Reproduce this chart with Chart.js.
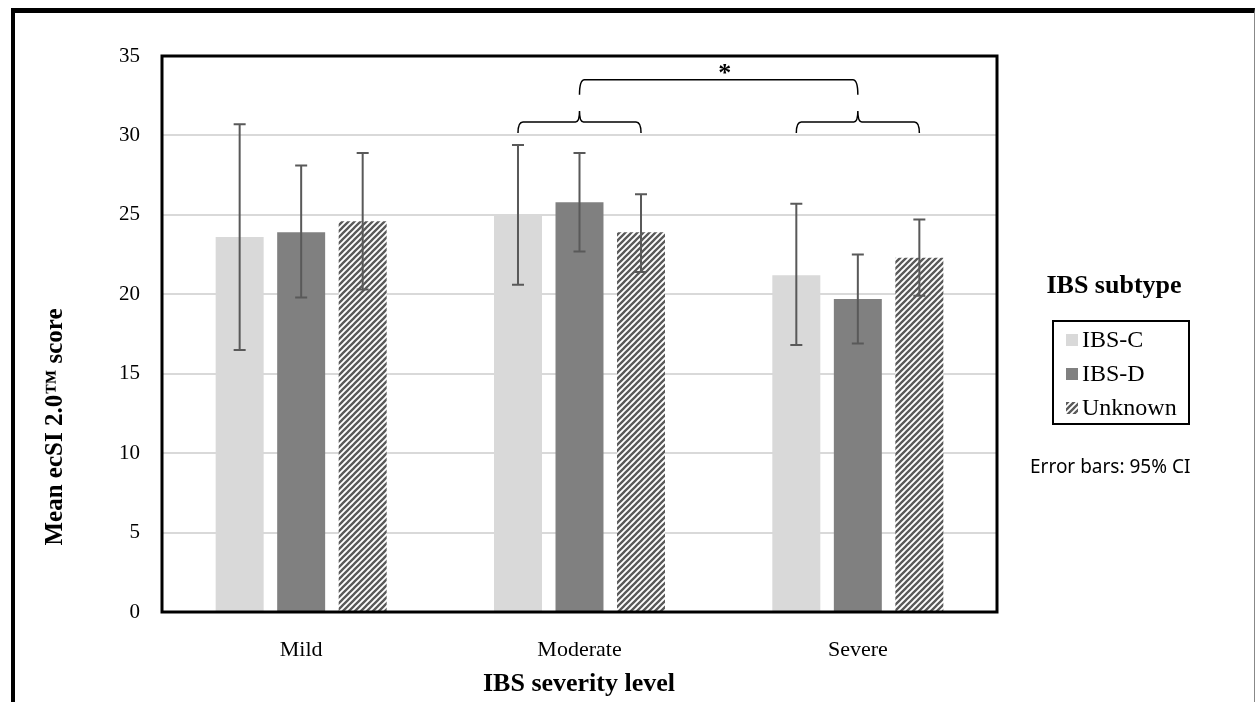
<!DOCTYPE html>
<html>
<head>
<meta charset="utf-8">
<script src="https://cdn.jsdelivr.net/npm/chart.js@4.4.1/dist/chart.umd.min.js"></script>
<style>
  html, body { margin: 0; padding: 0; background: #fff; overflow: hidden; }
  #wrap { position: relative; width: 1255px; height: 702px; }
  #frame {
    position: absolute; left: 11px; top: 8px; width: 1239px; height: 720px;
    border-top: 5px solid #000; border-left: 4px solid #000; border-right: 1px solid #888;
    pointer-events: none;
  }
</style>
</head>
<body>
<div id="wrap">
  <canvas id="ibsChart" width="1255" height="702"></canvas>
  <div id="frame"></div>
</div>
<script>
/* ── DATA ── */
const categories = ["Mild", "Moderate", "Severe"];
const seriesNames = ["IBS-C", "IBS-D", "Unknown"];

const ibsC = [23.6, 25.0, 21.2];
const ibsD = [23.9, 25.8, 19.7];
const unknown = [24.6, 23.9, 22.3];

// 95% CI bounds
const ibsCLow = [16.5, 20.6, 16.8];
const ibsCHigh = [30.7, 29.4, 25.7];
const ibsDLow = [19.8, 22.7, 16.9];
const ibsDHigh = [28.1, 28.9, 22.5];
const unknownLow = [20.3, 21.4, 19.9];
const unknownHigh = [28.9, 26.3, 24.7];

const yTicks = [0, 5, 10, 15, 20, 25, 30, 35];

// significance: brace over each category group, joined by a bracket
const braceGroups = [1, 2];
const braceLevel = 30.85;
const sigLevel = 33.5;
const sigLabel = "*";

const lows = [ibsCLow, ibsDLow, unknownLow];
const highs = [ibsCHigh, ibsDHigh, unknownHigh];

/* ── STYLE ── */
const serif = "'Liberation Serif', 'Times New Roman', serif";

function makeHatch() {
    const c = document.createElement("canvas");
    c.width = 6;
    c.height = 6;
    const g = c.getContext("2d");
    g.fillStyle = "#ffffff";
    g.fillRect(0, 0, 6, 6);
    g.strokeStyle = "#595959";
    g.lineWidth = 2.3;
    g.beginPath();
    g.moveTo(-1, 7); g.lineTo(7, -1);
    g.moveTo(-4, 4); g.lineTo(4, -4);
    g.moveTo(2, 10); g.lineTo(10, 2);
    g.stroke();
    return g.createPattern(c, "repeat");
}
const hatch = makeHatch();
const fills = ["#d9d9d9", "#808080", hatch];

/* ── PLUGIN: error bars, braces, frame, legend, titles ── */
const extras = {
    id: "extras",
    afterDatasetsDraw(chart) {
        const ctx = chart.ctx;
        const y = chart.scales.y;
        const area = chart.chartArea;

        // error bars
        ctx.save();
        ctx.strokeStyle = "#595959";
        ctx.lineWidth = 2;
        chart.data.datasets.forEach((ds, i) => {
            const meta = chart.getDatasetMeta(i);
            meta.data.forEach((bar, j) => {
                const yh = y.getPixelForValue(highs[i][j]);
                const yl = y.getPixelForValue(lows[i][j]);
                ctx.beginPath();
                ctx.moveTo(bar.x, yh); ctx.lineTo(bar.x, yl);
                ctx.moveTo(bar.x - 6, yh); ctx.lineTo(bar.x + 6, yh);
                ctx.moveTo(bar.x - 6, yl); ctx.lineTo(bar.x + 6, yl);
                ctx.stroke();
            });
        });
        ctx.restore();

        // plot frame
        ctx.save();
        ctx.strokeStyle = "#000";
        ctx.lineWidth = 3;
        ctx.strokeRect(area.left, area.top, area.right - area.left, area.bottom - area.top);
        ctx.restore();

        // braces
        ctx.save();
        ctx.strokeStyle = "#000";
        ctx.lineWidth = 1.5;
        const yb = y.getPixelForValue(braceLevel);
        const centers = [];
        braceGroups.forEach((g) => {
            const x1 = chart.getDatasetMeta(0).data[g].x;
            const xc = chart.getDatasetMeta(1).data[g].x;
            const x2 = chart.getDatasetMeta(2).data[g].x;
            centers.push(xc);
            ctx.beginPath();
            ctx.moveTo(x1, yb + 11);
            ctx.quadraticCurveTo(x1, yb, x1 + 5, yb);
            ctx.lineTo(xc - 4, yb);
            ctx.quadraticCurveTo(xc, yb, xc, yb - 11);
            ctx.quadraticCurveTo(xc, yb, xc + 4, yb);
            ctx.lineTo(x2 - 5, yb);
            ctx.quadraticCurveTo(x2, yb, x2, yb + 11);
            ctx.stroke();
        });
        const ys = y.getPixelForValue(sigLevel);
        const a = centers[0], b = centers[1];
        ctx.beginPath();
        ctx.moveTo(a, ys + 15);
        ctx.quadraticCurveTo(a, ys, a + 5, ys);
        ctx.lineTo(b - 5, ys);
        ctx.quadraticCurveTo(b, ys, b, ys + 15);
        ctx.stroke();
        ctx.fillStyle = "#000";
        ctx.font = "bold 26px " + serif;
        ctx.textAlign = "center";
        ctx.textBaseline = "middle";
        ctx.fillText(sigLabel, (a + b) / 2 + 6, ys - 6);
        ctx.restore();
    },
    afterDraw(chart) {
        const ctx = chart.ctx;
        ctx.save();
        ctx.fillStyle = "#000";

        // y title
        ctx.save();
        ctx.translate(56, 427);
        ctx.rotate(-Math.PI / 2);
        ctx.font = "bold 25px " + serif;
        ctx.textAlign = "center";
        ctx.textBaseline = "middle";
        ctx.fillText("Mean ecSI 2.0\u2122 score", 0, 0);
        ctx.restore();

        // x title
        ctx.font = "bold 26px " + serif;
        ctx.textAlign = "center";
        ctx.textBaseline = "middle";
        ctx.fillText("IBS severity level", 579, 684);

        // legend
        ctx.font = "bold 26px " + serif;
        ctx.fillText("IBS subtype", 1114, 286);
        ctx.lineWidth = 2;
        ctx.strokeStyle = "#000";
        ctx.strokeRect(1053, 321, 136, 103);
        ctx.font = "24px " + serif;
        ctx.textAlign = "left";
        const rowY = [340, 374, 408];
        chart.data.datasets.forEach((ds, i) => {
            ctx.fillStyle = ds.backgroundColor;
            ctx.fillRect(1066, rowY[i] - 6, 12, 12);
            ctx.fillStyle = "#000";
            ctx.fillText(ds.label, 1082, rowY[i] + 1);
        });

        // error bar note
        ctx.font = "19px 'Noto Sans', 'Open Sans', sans-serif";
        ctx.fillText("Error bars: 95% CI", 1030, 468);
        ctx.restore();
    },
};

/* ── CHART ── */
const ctx = document.getElementById("ibsChart").getContext("2d");

new Chart(ctx, {
    type: "bar",
    data: {
        labels: categories,
        datasets: [
            { label: seriesNames[0], data: ibsC, backgroundColor: fills[0] },
            { label: seriesNames[1], data: ibsD, backgroundColor: fills[1] },
            { label: seriesNames[2], data: unknown, backgroundColor: fills[2] },
        ],
    },
    options: {
        responsive: false,
        animation: false,
        categoryPercentage: 0.663,
        barPercentage: 0.78,
        layout: { padding: { left: 0, top: 56, right: 258, bottom: 0 } },
        plugins: {
            legend: { display: false },
            tooltip: { enabled: false },
        },
        scales: {
            x: {
                grid: { display: false },
                border: { display: false },
                ticks: {
                    color: "#000",
                    padding: 17,
                    font: { family: serif, size: 22 },
                },
                afterFit(scale) { scale.height = 90; },
            },
            y: {
                min: 0,
                max: 35,
                afterBuildTicks(scale) {
                    scale.ticks = yTicks.map((v) => ({ value: v }));
                },
                grid: {
                    drawTicks: false,
                    lineWidth: 2,
                    color: (c) => (c.tick && (c.tick.value === 0 || c.tick.value === 35) ? "rgba(0,0,0,0)" : "#d9d9d9"),
                },
                border: { display: false },
                ticks: {
                    color: "#000",
                    padding: 22,
                    font: { family: serif, size: 21 },
                },
                afterFit(scale) { scale.width = 162; },
            },
        },
    },
    plugins: [extras],
});
</script>
</body>
</html>
